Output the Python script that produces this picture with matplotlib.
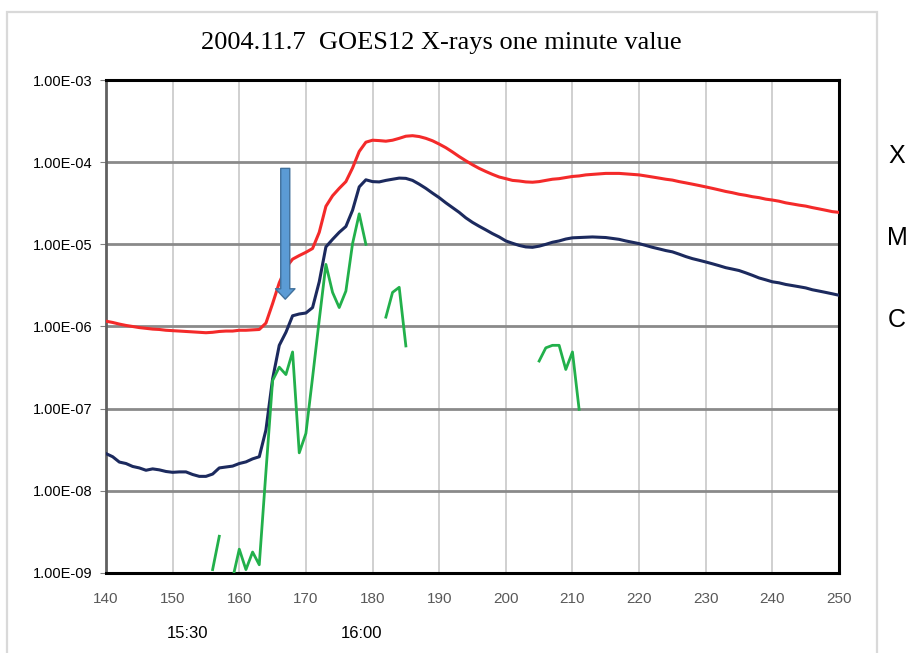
import numpy as np
import matplotlib
matplotlib.use('Agg')
import matplotlib.pyplot as plt
from matplotlib.patches import Rectangle
from matplotlib.ticker import FixedLocator, NullLocator
import matplotlib.transforms as mtransforms

# minutes (x axis) 140..250
minutes = np.arange(140, 251)

# long channel (red)
long_flux = [
    1.16e-6, 1.12e-6, 1.07e-6, 1.03e-6, 1.0e-6, 0.97e-6, 0.95e-6, 0.93e-6, 0.92e-6, 0.9e-6,
    0.89e-6, 0.88e-6, 0.87e-6, 0.86e-6, 0.85e-6, 0.84e-6, 0.85e-6, 0.87e-6, 0.88e-6, 0.88e-6,
    0.9e-6, 0.9e-6, 0.91e-6, 0.92e-6, 1.1e-6, 1.9e-6, 3.4e-6, 5.2e-6, 6.6e-6, 7.3e-6,
    8.0e-6, 8.9e-6, 1.4e-5, 2.9e-5, 3.9e-5, 4.8e-5, 5.8e-5, 8.5e-5, 1.35e-4, 1.75e-4,
    1.85e-4, 1.83e-4, 1.8e-4, 1.85e-4, 1.95e-4, 2.07e-4, 2.1e-4, 2.05e-4, 1.95e-4, 1.82e-4,
    1.66e-4, 1.5e-4, 1.33e-4, 1.17e-4, 1.04e-4, 9.3e-5, 8.4e-5, 7.7e-5, 7.1e-5, 6.6e-5,
    6.3e-5, 6.0e-5, 5.9e-5, 5.75e-5, 5.7e-5, 5.8e-5, 6.0e-5, 6.2e-5, 6.3e-5, 6.5e-5,
    6.7e-5, 6.8e-5, 7.0e-5, 7.1e-5, 7.2e-5, 7.3e-5, 7.3e-5, 7.3e-5, 7.2e-5, 7.1e-5,
    7.0e-5, 6.8e-5, 6.6e-5, 6.4e-5, 6.2e-5, 6.05e-5, 5.8e-5, 5.6e-5, 5.4e-5, 5.2e-5,
    5.0e-5, 4.8e-5, 4.6e-5, 4.4e-5, 4.25e-5, 4.07e-5, 3.95e-5, 3.8e-5, 3.7e-5, 3.55e-5,
    3.46e-5, 3.35e-5, 3.2e-5, 3.1e-5, 3.0e-5, 2.92e-5, 2.8e-5, 2.7e-5, 2.6e-5, 2.5e-5,
    2.45e-5,
]

# short channel (navy)
short_flux = [
    2.84e-8, 2.6e-8, 2.24e-8, 2.15e-8, 1.98e-8, 1.9e-8, 1.78e-8, 1.85e-8, 1.8e-8, 1.72e-8,
    1.68e-8, 1.7e-8, 1.7e-8, 1.58e-8, 1.5e-8, 1.5e-8, 1.6e-8, 1.9e-8, 1.95e-8, 2.0e-8,
    2.15e-8, 2.25e-8, 2.45e-8, 2.6e-8, 5.5e-8, 2.3e-7, 5.9e-7, 8.5e-7, 1.35e-6, 1.42e-6,
    1.46e-6, 1.7e-6, 3.5e-6, 9.3e-6, 1.15e-5, 1.4e-5, 1.65e-5, 2.6e-5, 5.0e-5, 6.1e-5,
    5.8e-5, 5.75e-5, 6.0e-5, 6.2e-5, 6.4e-5, 6.35e-5, 6.0e-5, 5.4e-5, 4.8e-5, 4.2e-5,
    3.7e-5, 3.2e-5, 2.8e-5, 2.45e-5, 2.1e-5, 1.85e-5, 1.66e-5, 1.5e-5, 1.35e-5, 1.23e-5,
    1.1e-5, 1.03e-5, 9.7e-6, 9.3e-6, 9.2e-6, 9.5e-6, 1.0e-5, 1.06e-5, 1.1e-5, 1.16e-5,
    1.2e-5, 1.21e-5, 1.22e-5, 1.23e-5, 1.22e-5, 1.21e-5, 1.18e-5, 1.15e-5, 1.1e-5, 1.06e-5,
    1.02e-5, 9.7e-6, 9.2e-6, 8.8e-6, 8.4e-6, 8.1e-6, 7.6e-6, 7.1e-6, 6.7e-6, 6.4e-6,
    6.1e-6, 5.8e-6, 5.5e-6, 5.2e-6, 5.0e-6, 4.8e-6, 4.5e-6, 4.2e-6, 3.9e-6, 3.7e-6,
    3.5e-6, 3.4e-6, 3.25e-6, 3.15e-6, 3.05e-6, 2.95e-6, 2.8e-6, 2.7e-6, 2.6e-6, 2.5e-6,
    2.4e-6,
]

# green trace, gaps where no value
nan = np.nan
green_flux = (
    [nan] * 16
    + [1.1e-9, 2.8e-9, nan, 0.85e-9, 1.95e-9, 1.1e-9, 1.8e-9, 1.26e-9, 1.7e-8, 2.2e-7,
       3.2e-7, 2.6e-7, 4.9e-7, 2.9e-8, 5.0e-8, 2.4e-7, 1.2e-6, 5.7e-6, 2.6e-6, 1.7e-6,
       2.7e-6, 1.02e-5, 2.35e-5, 1.0e-5, nan, nan, 1.3e-6, 2.6e-6, 3.0e-6, 5.8e-7]
    + [nan] * 19
    + [3.8e-7, 5.5e-7, 5.9e-7, 5.9e-7, 3.0e-7, 4.9e-7, 9.8e-8]
    + [nan] * 39
)

y_ticks = [1e-9, 1e-8, 1e-7, 1e-6, 1e-5, 1e-4, 1e-3]
y_tick_labels = ['1.00E-09', '1.00E-08', '1.00E-07', '1.00E-06',
                 '1.00E-05', '1.00E-04', '1.00E-03']
x_ticks = list(range(140, 251, 10))

class_labels = ['X', 'M', 'C']
class_levels = [1e-4, 1e-5, 1e-6]

time_labels = ['15:30', '16:00']
time_pos = [152.2, 178.4]

arrow_x = 166.9
arrow_top, arrow_tip = 8.4e-5, 2.15e-6

plt.rcParams['font.family'] = ['Liberation Sans', 'DejaVu Sans']

fig = plt.figure(figsize=(9.22, 6.53), dpi=100)
ax = fig.add_axes([106 / 922, 1 - 573 / 653, (839 - 106) / 922, (573 - 80) / 653])

ax.plot(minutes, long_flux, color='#f42a2a', lw=2.2, zorder=4)
ax.plot(minutes, short_flux, color='#1c2a5e', lw=2.2, zorder=4)
ax.plot(minutes, green_flux, color='#22b04b', lw=2.0, zorder=4)

ax.set_yscale('log')
ax.set_ylim(1e-9, 1e-3)
ax.set_xlim(140, 250)
ax.yaxis.set_major_locator(FixedLocator(y_ticks))
ax.yaxis.set_minor_locator(NullLocator())
ax.set_yticklabels(y_tick_labels)
ax.set_xticks(x_ticks)
ax.set_xticklabels([str(v) for v in x_ticks])

ax.tick_params(axis='y', length=4, color='#808080', pad=6, labelsize=10.5)
ax.tick_params(axis='x', length=0, pad=14, labelsize=11, labelcolor='#595959')

for t in y_ticks[1:-1]:
    ax.axhline(t, color='#8a8a8a', lw=2.0, zorder=1)
for v in x_ticks[1:-1]:
    ax.axvline(v, color='#c8c8c8', lw=1.2, zorder=0)

for side in ['top', 'right', 'bottom']:
    ax.spines[side].set_color('black')
    ax.spines[side].set_linewidth(2.2)
ax.spines['left'].set_color('#606060')
ax.spines['left'].set_linewidth(2.0)

ax.annotate('', xy=(arrow_x, arrow_tip), xytext=(arrow_x, arrow_top),
            arrowprops=dict(arrowstyle='simple,head_length=0.75,head_width=1.4,tail_width=0.65',
                            fc='#5b9bd5', ec='#41719c', lw=1, mutation_scale=10,
                            shrinkA=0, shrinkB=0), zorder=5)

trans = mtransforms.blended_transform_factory(ax.transData, ax.transAxes)
for lab, pos in zip(time_labels, time_pos):
    ax.text(pos, -0.122, lab, transform=trans, ha='center', va='center', fontsize=12)

fig.text(441 / 922, 1 - 43 / 653, '2004.11.7  GOES12 X-rays one minute value',
         ha='center', va='center', fontsize=19, family=['Liberation Serif'])

tr2 = mtransforms.blended_transform_factory(fig.transFigure, ax.transData)
for lab, lev in zip(class_labels, class_levels):
    ax.text(897 / 922, lev * 10 ** 0.08, lab, transform=tr2, ha='center', va='center',
            fontsize=18)

fig.patches.append(Rectangle((7 / 922, -0.02), (877 - 7) / 922, 1 - 12 / 653 + 0.02,
                             transform=fig.transFigure, fill=False, ec='#d9d9d9', lw=1.6))

fig.savefig('out.png', dpi=100)
